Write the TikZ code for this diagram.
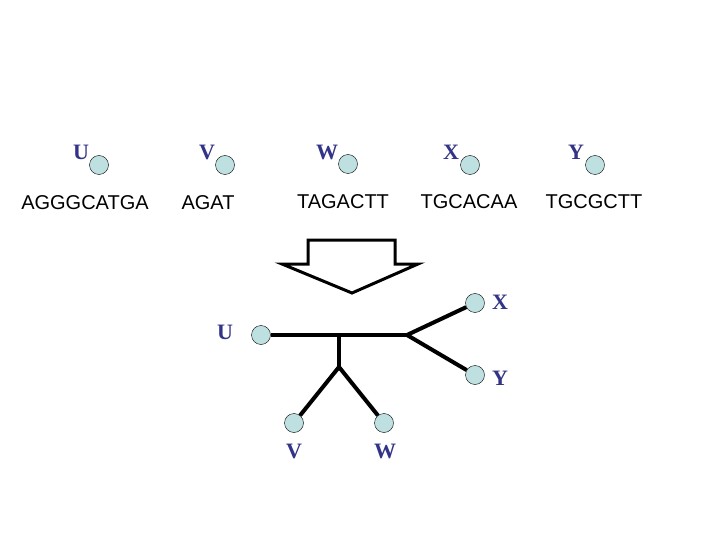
\documentclass[tikz,border=0pt]{standalone}
\usepackage{fontspec}
\setmainfont{Liberation Serif}
\setsansfont{Liberation Sans}
\usepackage{xcolor}
\usepackage{tikz}
\usetikzlibrary{calc,positioning}
\definecolor{leafc}{HTML}{BFE0E0}
\definecolor{namec}{HTML}{333388}
\tikzset{
  leaf/.style={circle,draw=black,thin,fill=leafc,minimum size=19pt,inner sep=0pt},
  nm/.style={font=\fontsize{22}{24}\selectfont\bfseries,text=namec,inner sep=0pt},
  sq/.style={font=\sffamily\fontsize{20}{22}\selectfont,inner sep=0pt},
  br/.style={line width=4pt,black}
}
\begin{document}
\begin{tikzpicture}[x=1pt,y=-1pt]
\useasboundingbox (0,0) rectangle (720,540);
% sequences
\node[leaf] (u) at (99,165) {};
\node[leaf] (v) at (225,165) {};
\node[leaf] (w) at (348,164) {};
\node[leaf] (x) at (470,165) {};
\node[leaf] (y) at (595,165) {};
\node[nm] (ul) at (81,152) {U};
\node[nm] (vl) at (207,152) {V};
\node[nm] (wl) at (327,152) {W};
\node[nm] (xl) at (451,152) {X};
\node[nm] (yl) at (576,152) {Y};
\node[sq] (us) at (85,203) {AGGGCATGA};
\node[sq] (vs) at (208,203) {AGAT};
\node[sq] (ws) at (343,202) {TAGACTT};
\node[sq] (xs) at (469,202) {TGCACAA};
\node[sq] (ys) at (594,202) {TGCGCTT};
% big arrow
\draw[line width=3pt,line join=miter] (308,240)--(395,240)--(395,264)--(418,264)
  --(352,293)--(282,264)--(308,264)--cycle;
% tree
\coordinate (j1) at (339,335);
\coordinate (j2) at (339,367);
\coordinate (j3) at (407,335);
\node[leaf] (tu) at (261,335) {};
\node[leaf] (tv) at (294,423) {};
\node[leaf] (tw) at (384,423) {};
\node[leaf] (tx) at (475,303) {};
\node[leaf] (ty) at (475,375) {};
\draw[br] (tu) -- (j3);
\draw[br] (j1) -- (j2);
\draw[br] (j2) -- (tv);
\draw[br] (j2) -- (tw);
\draw[br] (j3) -- (tx);
\draw[br] (j3) -- (ty);
\node[nm] (tul) at (225,332) {U};
\node[nm] (tvl) at (294,451) {V};
\node[nm] (twl) at (385,451) {W};
\node[nm] (txl) at (500,302) {X};
\node[nm] (tyl) at (500,378) {Y};
\end{tikzpicture}
\end{document}
